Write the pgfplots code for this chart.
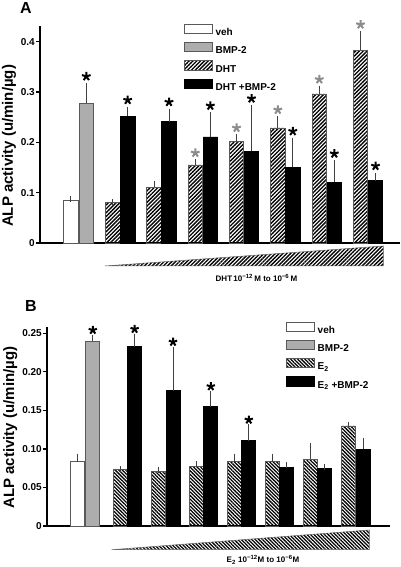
\documentclass[border=0pt]{standalone}
\usepackage{fontspec}
\setmainfont{Liberation Sans}
\usepackage{pgfplots}
\pgfplotsset{compat=1.18}
\usetikzlibrary{patterns.meta}
\definecolor{baredge}{gray}{0.35}
\definecolor{bmpgray}{gray}{0.68}
\definecolor{stargray}{gray}{0.55}
\pgfplotsset{
  panel/.style={
    scale only axis, clip=false,
    axis lines=left,
    axis line style={-, line width=1.3pt},
    xtick=\empty,
    ytick style={line width=1.2pt, black},
    major tick length=4pt, tick align=outside,
    yticklabel style={font=\fontsize{10}{10}\selectfont, inner sep=1pt},
    ylabel style={font=\fontsize{15}{15}\selectfont},
    legend cell align=left,
    legend style={draw=none, fill=none, inner sep=0pt, outer sep=0pt, row sep=4pt, column sep=3pt,
      font=\fontsize{10}{10}\selectfont, anchor=north west,
      nodes={inner sep=0pt, text height=8.5pt, text depth=2.5pt}},
  },
  errb/.style={error bars/.cd, y dir=plus, y explicit,
    error bar style={line width=0.8pt, black!75},
    error mark options={line width=0.8pt, black!75, mark size=3pt}},
  barA/.style={forget plot, ybar, bar width=14.5pt, bar shift=0pt, line width=0.8pt},
  barB/.style={forget plot, ybar, bar width=14pt, bar shift=0pt, line width=0.8pt},
}
\begin{document}
\bfseries
\begin{tikzpicture}[x=1pt,y=1pt]
\useasboundingbox (0,0) rectangle (400,567);
% ---------------- Panel A ----------------
\begin{axis}[panel, at={(40pt,324pt)}, anchor=south west,
  width=360pt, height=217pt, xmin=40, xmax=400, ymin=0, ymax=0.4311,
  ytick={0,0.1,0.2,0.3,0.4}, yticklabels={0,0.1,0.2,0.3,0.4},
  ylabel={ALP activity (u/min/µg)},
  ylabel style={at={(axis description cs:-0.0861,0.447)}, anchor=center},
  legend style={at={(axis description cs:0.4008,1.0092)}}]
\addlegendimage{legend image code/.code={\draw[fill=white,draw=baredge,line width=0.8pt] (0pt,-1pt) rectangle (27.5pt,8.3pt);}}
\addlegendentry{veh}
\addlegendimage{legend image code/.code={\draw[fill=bmpgray,draw=baredge,line width=0.8pt] (0pt,-1pt) rectangle (27.5pt,8.3pt);}}
\addlegendentry{BMP-2}
\addlegendimage{legend image code/.code={\draw[pattern={Lines[angle=45,distance=2.7pt,line width=1.35pt]},draw=baredge,line width=0.8pt] (0pt,-1pt) rectangle (27.5pt,8.3pt);}}
\addlegendentry{DHT}
\addlegendimage{legend image code/.code={\draw[fill=black,draw=black,line width=0.8pt] (0pt,-1pt) rectangle (27.5pt,8.3pt);}}
\addlegendentry{DHT +BMP-2}
% veh
\addplot[barA, fill=white, draw=baredge, errb] coordinates {(70.8,0.085) +- (0,0.002)};
% BMP-2
\addplot[barA, fill=bmpgray, draw=baredge, errb] coordinates {(86.3,0.278) +- (0,0.034)};
% DHT
\addplot[barA, pattern={Lines[angle=45,distance=2.7pt,line width=1.35pt]}, draw=baredge, errb] coordinates {
 (112.7,0.080) +- (0,0.001)
 (154.0,0.111) +- (0,0.006)
 (195.3,0.155) +- (0,0.005)
 (236.5,0.2026) +- (0,0.007)
 (277.8,0.2285) +- (0,0.017)
 (319.3,0.296) +- (0,0.010)
 (360.5,0.383) +- (0,0.032)
};
% DHT + BMP-2
\addplot[barA, fill=black, draw=black, errb] coordinates {
 (127.7,0.252) +- (0,0.013)
 (169.0,0.241) +- (0,0.020)
 (210.3,0.2106) +- (0,0.043)
 (251.5,0.182) +- (0,0.086)
 (292.8,0.150) +- (0,0.053)
 (334.3,0.1205) +- (0,0.038)
 (375.5,0.124) +- (0,0.010)
};
% stars
\addplot[forget plot, only marks, mark=star, mark size=4.5pt, mark options={line width=2pt, draw=black, yshift=9.5pt}] coordinates {
 (86.3,0.312) (127.7,0.265) (169.0,0.261) (210.3,0.2536) (251.5,0.268) (292.8,0.203) (334.3,0.1585) (375.5,0.134)};
\addplot[forget plot, only marks, mark=star, mark size=4.5pt, mark options={line width=2pt, draw=stargray, yshift=9.5pt}] coordinates {
 (195.3,0.160) (236.5,0.2096) (277.8,0.2455) (319.3,0.306) (360.5,0.415)};
\end{axis}
\draw[draw=black!60, line width=0.5pt, pattern={Lines[angle=45,distance=2.7pt,line width=1.35pt]}] (105,301) -- (383.3,301) -- (383.3,321) -- cycle;
\node[anchor=base, font=\fontsize{8}{8}\selectfont, inner sep=0pt] at (256.5,285.3) {DHT\,10\textsuperscript{−12}\,M to 10\textsuperscript{−6}\,M};
\node[anchor=base, font=\fontsize{16}{16}\selectfont, inner sep=0pt] at (26,553.7) {A};
% ---------------- Panel B ----------------
\begin{axis}[panel, at={(47pt,41pt)}, anchor=south west,
  width=343pt, height=199.3pt, xmin=47, xmax=390, ymin=0, ymax=0.2586,
  ytick={0,0.05,0.10,0.15,0.20,0.25}, yticklabels={0,0.05,0.10,0.15,0.20,0.25},
  ylabel={ALP activity (u/min/µg)},
  ylabel style={at={(axis description cs:-0.107,0.494)}, anchor=center},
  legend style={at={(axis description cs:0.698,1.025)}}]
\addlegendimage{legend image code/.code={\draw[fill=white,draw=baredge,line width=0.8pt] (0pt,-1pt) rectangle (27.5pt,8.3pt);}}
\addlegendentry{veh}
\addlegendimage{legend image code/.code={\draw[fill=bmpgray,draw=baredge,line width=0.8pt] (0pt,-1pt) rectangle (27.5pt,8.3pt);}}
\addlegendentry{BMP-2}
\addlegendimage{legend image code/.code={\draw[pattern={Lines[angle=-45,distance=2.5pt,line width=1.25pt]},draw=baredge,line width=0.8pt] (0pt,-1pt) rectangle (27.5pt,8.3pt);}}
\addlegendentry{E\textsubscript{2}}
\addlegendimage{legend image code/.code={\draw[fill=black,draw=black,line width=0.8pt] (0pt,-1pt) rectangle (27.5pt,8.3pt);}}
\addlegendentry{E\textsubscript{2} +BMP-2}
\addplot[barB, fill=white, draw=baredge, errb] coordinates {(77.7,0.0835) +- (0,0.0065)};
\addplot[barB, fill=bmpgray, draw=baredge, errb] coordinates {(92.8,0.240) +- (0,0.0044)};
\addplot[barB, pattern={Lines[angle=-45,distance=2.5pt,line width=1.25pt]}, draw=baredge, errb] coordinates {
 (120.3,0.0735) +- (0,0.0)
 (158.7,0.0705) +- (0,0.002)
 (196.5,0.077) +- (0,0.003)
 (234.5,0.0835) +- (0,0.0065)
 (272.3,0.0835) +- (0,0.0065)
 (310.3,0.0865) +- (0,0.0175)
 (348.8,0.1298) +- (0,0.001)
};
\addplot[barB, fill=black, draw=black, errb] coordinates {
 (134.6,0.2327) +- (0,0.013)
 (173.0,0.1756) +- (0,0.0534)
 (210.8,0.1548) +- (0,0.0165)
 (248.8,0.1107) +- (0,0.0173)
 (286.6,0.0757) +- (0,0.0033)
 (324.6,0.0748) +- (0,0.0022)
 (363.1,0.0995) +- (0,0.0105)
};
\addplot[forget plot, only marks, mark=star, mark size=4.3pt, mark options={line width=2pt, draw=black, yshift=7.5pt}] coordinates {
 (92.8,0.2444) (134.6,0.2457) (173.0,0.229) (210.8,0.1713) (248.8,0.128)};
\end{axis}
\draw[draw=black!60, line width=0.5pt, pattern={Lines[angle=-45,distance=2.5pt,line width=1.25pt]}] (111.7,17.3) -- (369.3,17.3) -- (369.3,37) -- cycle;
\node[anchor=base, font=\fontsize{8}{8}\selectfont, inner sep=0pt] at (263,4.3) {E\textsubscript{2} 10\textsuperscript{−12}M to 10\textsuperscript{−6}M};
\node[anchor=base, font=\fontsize{16}{16}\selectfont, inner sep=0pt] at (31,255) {B};
\end{tikzpicture}
\end{document}
